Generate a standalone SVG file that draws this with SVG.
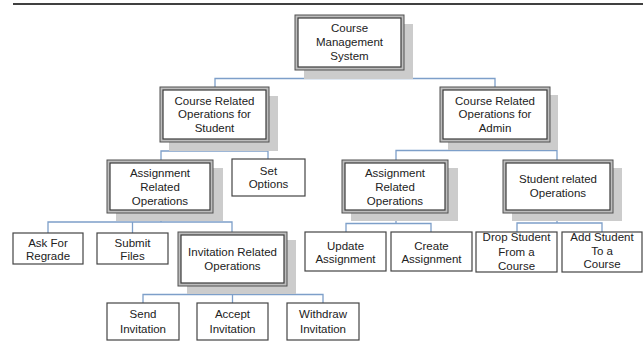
<svg xmlns="http://www.w3.org/2000/svg" width="643" height="343" viewBox="0 0 643 343">
<style>
.sh{fill:#cccccc}
.o{fill:#bdbdbd;stroke:#505050;stroke-width:1}
.i{fill:#ffffff;stroke:#3a3a3a;stroke-width:1.2}
.s{fill:#ffffff;stroke:#444444;stroke-width:1.2}
.c{fill:none;stroke:#7d9fc9;stroke-width:1.3}
text{font-family:"Liberation Sans",Arial,sans-serif;font-size:11.5px;fill:#222222;text-anchor:middle}
</style>
<rect x="0" y="0" width="643" height="343" fill="#ffffff"/>
<line x1="13" y1="4" x2="643" y2="4" stroke="#000000" stroke-width="1.4"/>

<g id="connectors">
<path class="c" d="M350 70V78.5M215 87V78.5H495V87"/>
<path class="c" d="M215 142V151M161 160V151H268V159"/>
<path class="c" d="M495 142V150.5M396 160V150.5H557V160"/>
<path class="c" d="M161 213V222M48 233V222H232V232M132.5 222V233"/>
<path class="c" d="M396 213V223.5M346 232V223.5H431V232"/>
<path class="c" d="M557 213V223M517 232V223H602V232"/>
<path class="c" d="M233 286V294.5M143 303V294.5H323V303M232.5 294.5V303"/>
</g>

<g id="root">
<rect class="sh" x="304" y="24" width="109" height="55"/>
<rect class="o" x="295" y="15" width="109" height="55"/>
<rect class="i" x="298" y="18" width="103" height="49"/>
<text x="349.5" y="32">Course</text>
<text x="349.5" y="46">Management</text>
<text x="349.5" y="60">System</text>
</g>

<g id="student_ops">
<rect class="sh" x="169" y="96" width="109" height="55"/>
<rect class="o" x="160" y="87" width="109" height="55"/>
<rect class="i" x="163" y="90" width="103" height="49"/>
<text x="214.5" y="105">Course Related</text>
<text x="214.5" y="118">Operations for</text>
<text x="214.5" y="132">Student</text>
</g>

<g id="admin_ops">
<rect class="sh" x="448" y="95" width="110" height="55"/>
<rect class="o" x="440" y="87" width="110" height="55"/>
<rect class="i" x="443" y="90" width="104" height="49"/>
<text x="495" y="105">Course Related</text>
<text x="495" y="118">Operations for</text>
<text x="495" y="132">Admin</text>
</g>

<g id="assign_student">
<rect class="sh" x="116" y="168" width="107" height="53"/>
<rect class="o" x="107" y="160" width="106" height="53"/>
<rect class="i" x="110" y="163" width="100" height="47"/>
<text x="160" y="177">Assignment</text>
<text x="160" y="191">Related</text>
<text x="160" y="205">Operations</text>
</g>

<g id="set_options">
<rect class="s" x="232" y="159" width="73" height="37"/>
<text x="268.5" y="175">Set</text>
<text x="268.5" y="188">Options</text>
</g>

<g id="assign_admin">
<rect class="sh" x="351" y="168" width="107" height="53"/>
<rect class="o" x="342" y="160" width="106" height="53"/>
<rect class="i" x="345" y="163" width="100" height="47"/>
<text x="395" y="177">Assignment</text>
<text x="395" y="191">Related</text>
<text x="395" y="205">Operations</text>
</g>

<g id="student_related">
<rect class="sh" x="512" y="168" width="110" height="53"/>
<rect class="o" x="503" y="160" width="110" height="53"/>
<rect class="i" x="506" y="163" width="104" height="47"/>
<text x="558" y="183">Student related</text>
<text x="558" y="197">Operations</text>
</g>

<g id="ask_regrade">
<rect class="s" x="13" y="233" width="70" height="31"/>
<text x="48" y="247">Ask For</text>
<text x="48" y="260">Regrade</text>
</g>

<g id="submit_files">
<rect class="s" x="97" y="233" width="71" height="31"/>
<text x="132.5" y="247">Submit</text>
<text x="132.5" y="260">Files</text>
</g>

<g id="invitation_ops">
<rect class="sh" x="187" y="240" width="109" height="54"/>
<rect class="o" x="178" y="232" width="109" height="54"/>
<rect class="i" x="181" y="235" width="103" height="48"/>
<text x="232.5" y="256">Invitation Related</text>
<text x="232.5" y="270">Operations</text>
</g>

<g id="update_assignment">
<rect class="s" x="305" y="232" width="81" height="39"/>
<text x="345.5" y="250">Update</text>
<text x="345.5" y="263">Assignment</text>
</g>

<g id="create_assignment">
<rect class="s" x="391" y="232" width="81" height="39"/>
<text x="431.5" y="250">Create</text>
<text x="431.5" y="263">Assignment</text>
</g>

<g id="drop_student">
<rect class="s" x="476" y="232" width="81" height="40"/>
<text x="516.5" y="241">Drop Student</text>
<text x="516.5" y="256">From a</text>
<text x="516.5" y="270">Course</text>
</g>

<g id="add_student">
<rect class="s" x="562" y="232" width="80" height="40"/>
<text x="602" y="241">Add Student</text>
<text x="602" y="255">To a</text>
<text x="602" y="268">Course</text>
</g>

<g id="send_invitation">
<rect class="s" x="107" y="303" width="72" height="37"/>
<text x="143" y="318">Send</text>
<text x="143" y="333">Invitation</text>
</g>

<g id="accept_invitation">
<rect class="s" x="197" y="303" width="71" height="37"/>
<text x="232.5" y="318">Accept</text>
<text x="232.5" y="333">Invitation</text>
</g>

<g id="withdraw_invitation">
<rect class="s" x="287" y="303" width="72" height="37"/>
<text x="323" y="318">Withdraw</text>
<text x="323" y="333">Invitation</text>
</g>
</svg>
